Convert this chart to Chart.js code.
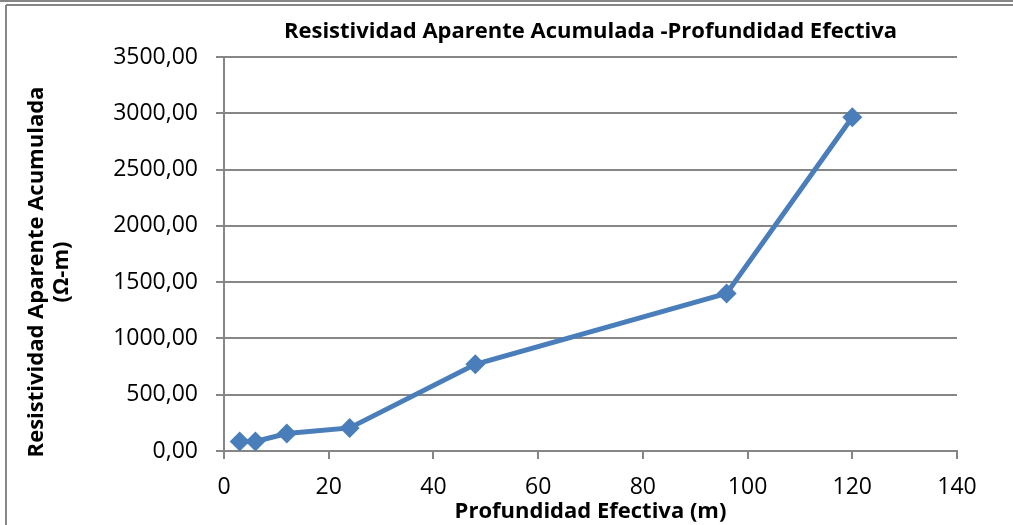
<!DOCTYPE html>
<html>
<head>
<meta charset="utf-8">
<script src="https://cdn.jsdelivr.net/npm/chart.js@4.4.1/dist/chart.umd.min.js"></script>
<style>
  html, body { margin: 0; padding: 0; background: #fff; }
  #wrap { width: 1013px; height: 525px; position: relative; }
</style>
</head>
<body>
<div id="wrap"><canvas id="chart"></canvas></div>
<script>
// Profundidad efectiva (m) y resistividad aparente acumulada (ohm-m)
const depths = [3, 6, 12, 24, 48, 96, 120];
const resistivity = [85, 85, 155, 205, 770, 1400, 2965];
const xTicks = [0, 20, 40, 60, 80, 100, 120, 140];
const yTicks = [0, 500, 1000, 1500, 2000, 2500, 3000, 3500];

const chartTitle = 'Resistividad Aparente Acumulada -Profundidad Efectiva';
const xTitle = 'Profundidad Efectiva (m)';
const yTitle = ['Resistividad Aparente Acumulada', '(Ω-m)'];

const FONT = '"Open Sans", Lato, sans-serif';
const GREY = '#868686';
const BLUE = '#4A7EBB';

// frame, chart title and y title drawn by hand (Excel-like placement)
const framePlugin = {
    id: 'frame',
    beforeDraw(chart) {
        const ctx = chart.ctx;
        ctx.save();
        ctx.strokeStyle = GREY;
        ctx.lineWidth = 2;
        ctx.beginPath();
        ctx.moveTo(0, 1); ctx.lineTo(1013, 1);
        ctx.moveTo(6, 5); ctx.lineTo(1013, 5);
        ctx.moveTo(6, 5); ctx.lineTo(6, 525);
        ctx.stroke();
        ctx.restore();
    },
    afterDraw(chart) {
        const ctx = chart.ctx;
        const area = chart.chartArea;
        ctx.save();
        ctx.fillStyle = '#000';
        ctx.font = 'bold 22px ' + FONT;
        ctx.textAlign = 'center';
        ctx.textBaseline = 'middle';
        ctx.fillText(chartTitle, (area.left + area.right) / 2, 32);

        // rotated y title, two lines
        ctx.translate(0, 272);
        ctx.rotate(-Math.PI / 2);
        ctx.fillText(yTitle[0], 0, 37);
        ctx.fillText(yTitle[1], 0, 62);
        ctx.restore();
    }
};

const ctx = document.getElementById('chart').getContext('2d');
new Chart(ctx, {
    type: 'line',
    data: {
        datasets: [{
            data: depths.map((d, i) => ({ x: d, y: resistivity[i] })),
            borderColor: BLUE,
            backgroundColor: BLUE,
            borderWidth: 5,
            pointStyle: 'rectRot',
            pointRadius: 10,
            pointHoverRadius: 10,
            pointBorderWidth: 0,
            tension: 0
        }]
    },
    options: {
        responsive: true,
        maintainAspectRatio: false,
        animation: false,
        layout: { padding: { top: 57, right: 56, left: 24, bottom: 0 } },
        plugins: {
            legend: { display: false },
            tooltip: { enabled: false }
        },
        scales: {
            x: {
                type: 'linear',
                min: 0,
                max: 140,
                afterBuildTicks: axis => { axis.ticks = xTicks.map(v => ({ value: v })); },
                afterFit: axis => { axis.height = 74; },
                ticks: {
                    color: '#000',
                    font: { family: FONT, size: 23 },
                    padding: 15,
                    maxRotation: 0
                },
                grid: {
                    drawOnChartArea: false,
                    drawTicks: true,
                    tickLength: 8,
                    color: GREY,
                    lineWidth: 2
                },
                border: { color: GREY, width: 2 },
                title: {
                    display: true,
                    text: xTitle,
                    color: '#000',
                    font: { family: FONT, size: 22, weight: 'bold' },
                    padding: { top: 0, bottom: 0 }
                }
            },
            y: {
                min: 0,
                max: 3500,
                afterBuildTicks: axis => { axis.ticks = yTicks.map(v => ({ value: v })); },
                afterFit: axis => { axis.width = 200; },
                ticks: {
                    color: '#000',
                    font: { family: FONT, size: 23 },
                    padding: 18,
                    callback: v => v.toFixed(2).replace('.', ',')
                },
                grid: {
                    color: GREY,
                    lineWidth: 2,
                    tickLength: 8
                },
                border: { color: GREY, width: 2 }
            }
        }
    },
    plugins: [framePlugin]
});
</script>
</body>
</html>
